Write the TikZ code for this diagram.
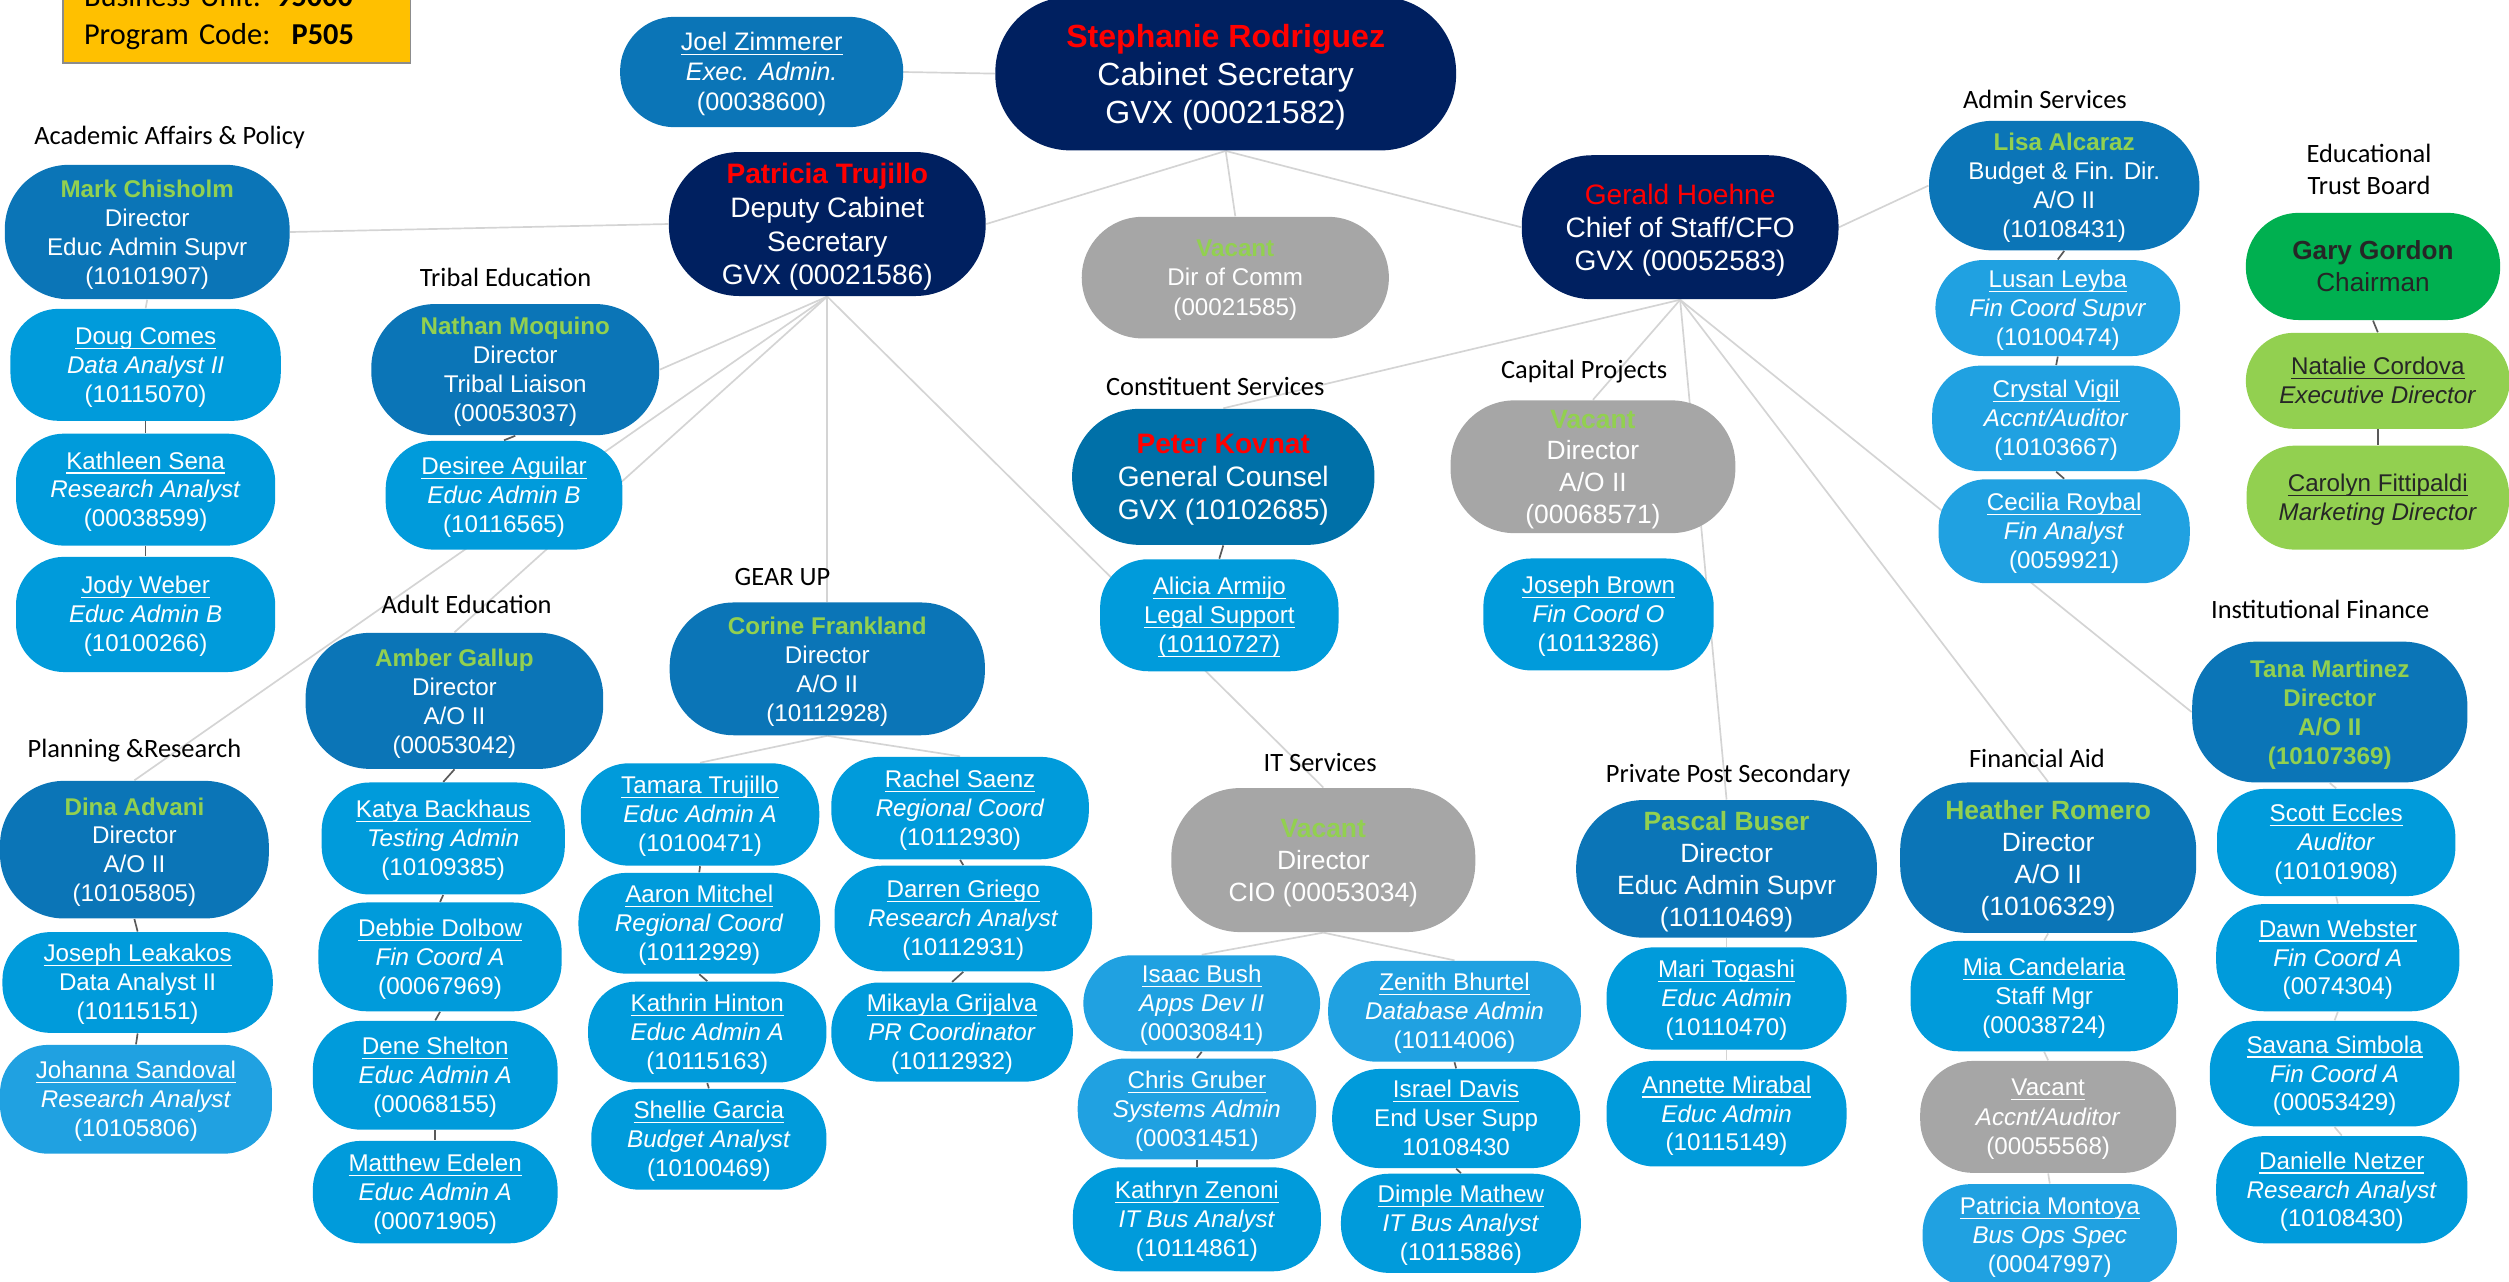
\documentclass[tikz,border=0pt]{standalone}
\usepackage{fontspec}
\setmainfont{Liberation Sans}
\newfontfamily\calib{Carlito}
\usetikzlibrary{backgrounds}

\definecolor{navy}{HTML}{002060}
\definecolor{dirblue}{HTML}{0B75B7}
\definecolor{gcblue}{HTML}{0070A8}
\definecolor{staffblue}{HTML}{009BDB}
\definecolor{stafflight}{HTML}{20A1E1}
\definecolor{vacgray}{HTML}{A6A6A6}
\definecolor{trustgreen}{HTML}{00B050}
\definecolor{boardgreen}{HTML}{92D050}
\definecolor{namegreen}{HTML}{92D050}
\definecolor{linkgray}{HTML}{D4D4D4}
\definecolor{stackgray}{HTML}{595959}
\definecolor{notegold}{HTML}{FFC000}

\newcommand{\nm}[1]{\underline{\smash{#1}}\vphantom{A}}
\newcommand{\gname}[1]{\textcolor{namegreen}{\textbf{#1}}}
\newcommand{\rname}[1]{\textcolor{red}{\textbf{#1}}}

\begin{document}
\begin{tikzpicture}
		[x=0.02cm,y=-0.02cm,
		card/.style={rectangle,align=center,inner sep=0pt,text=white,text depth=0pt},
		sz/.style 2 args={minimum width=#1*0.2mm,minimum height=#2*0.2mm},
		topbox/.style={card,fill=navy,rounded corners=0.88cm,font=\fontsize{10}{12}\selectfont},
		dirbox/.style={card,fill=dirblue,rounded corners=0.8cm,font=\fontsize{8.6}{10.3}\selectfont},
		bigdir/.style={dirbox,rounded corners=0.84cm,font=\fontsize{9.4}{11.4}\selectfont},
		staffbox/.style={card,fill=staffblue,rounded corners=0.6cm,font=\fontsize{8.6}{10.3}\selectfont},
		stafflt/.style={staffbox,fill=stafflight},
		vacbox/.style={card,fill=vacgray,rounded corners=0.76cm,font=\fontsize{8.6}{10.5}\selectfont},
		boardbox/.style={card,fill=boardgreen,text=black!85,rounded corners=0.6cm,font=\fontsize{8.6}{10.4}\selectfont},
		unitlabel/.style={inner sep=0pt,align=center,font=\calib\fontsize{9.4}{11.4}\selectfont},
		link/.style={draw=linkgray,line width=0.6pt},
		stack/.style={draw=stackgray,line width=0.6pt}]
		\useasboundingbox (0,0) rectangle (1568,801);

		% note box
		\node at (39,40) (bucode) [anchor=south west,fill=notegold,draw=black!45,line width=0.6pt,
			text width=3.82cm,inner xsep=0.26cm,inner ysep=0.17cm,align=left,
			font=\calib\fontsize{10.8}{13.4}\selectfont]
			{Business Unit: \textbf{95000}\\Program Code:\hspace{0.7em}\textbf{P505}};

		% cabinet
		\node at (766,46) (steph) [topbox,sz={288}{96},rounded corners=0.94cm,font=\fontsize{11.4}{13.5}\selectfont]
			{\rname{Stephanie Rodriguez}\\Cabinet Secretary\\GVX (00021582)};
		\node at (476,45) (joel) [dirbox,sz={177}{69},rounded corners=0.68cm,font=\fontsize{9}{10.7}\selectfont]
			{\nm{Joel Zimmerer}\\\textit{Exec. Admin.}\\(00038600)};
		\node at (517,140) (patricia) [topbox,sz={198}{90}]
			{\rname{Patricia Trujillo}\\Deputy Cabinet\\Secretary\\GVX (00021586)};
		\node at (772,173.5) (dircomm) [vacbox,sz={192}{76}]
			{\gname{Vacant}\\Dir of Comm\\(00021585)};
		\node at (1050,142) (gerald) [topbox,sz={198}{90},font=\fontsize{10}{11.8}\selectfont]
			{\textcolor{red}{Gerald Hoehne}\\Chief of Staff/CFO\\GVX (00052583)};

		% academic affairs
		\node at (106,86) (aaplbl) [unitlabel] {Academic Affairs \& Policy};
		\node at (92,145) (mark) [dirbox,sz={178}{84}]
			{\gname{Mark Chisholm}\\Director\\Educ Admin Supvr\\(10101907)};
		\node at (91,228) (doug) [staffbox,sz={169}{70}]
			{\nm{Doug Comes}\\\textit{Data Analyst II}\\(10115070)};
		\node at (91,306) (kathleen) [staffbox,sz={162}{70}]
			{\nm{Kathleen Sena}\\\textit{Research Analyst}\\(00038599)};
		\node at (91,384) (jody) [staffbox,sz={162}{72}]
			{\nm{Jody Weber}\\\textit{Educ Admin B}\\(10100266)};

		% tribal education
		\node at (316,173.6) (tribelbl) [unitlabel] {Tribal Education};
		\node at (322,231) (nathan) [dirbox,sz={180}{82}]
			{\gname{Nathan Moquino}\\Director\\Tribal Liaison\\(00053037)};
		\node at (315,309.5) (desiree) [staffbox,sz={148}{68}]
			{\nm{Desiree Aguilar}\\\textit{Educ Admin B}\\(10116565)};

		% planning and research
		\node at (84,469) (planlbl) [unitlabel] {Planning \&Research};
		\node at (84,531) (dina) [dirbox,sz={168}{86}]
			{\gname{Dina Advani}\\Director\\A/O II\\(10105805)};
		\node at (86,614) (leakakos) [staffbox,sz={169}{63}]
			{\nm{Joseph Leakakos}\\Data Analyst II\\(10115151)};
		\node at (85,687) (johanna) [stafflt,sz={170}{68}]
			{\nm{Johanna Sandoval}\\\textit{Research Analyst}\\(10105806)};

		% adult education
		\node at (291.6,378) (adultlbl) [unitlabel] {Adult Education};
		\node at (284,438) (amber) [dirbox,sz={186}{85}]
			{\gname{Amber Gallup}\\Director\\A/O II\\(00053042)};
		\node at (277,524) (katya) [staffbox,sz={152}{70}]
			{\nm{Katya Backhaus}\\\textit{Testing Admin}\\(10109385)};
		\node at (275,598) (debbie) [staffbox,sz={152}{68}]
			{\nm{Debbie Dolbow}\\\textit{Fin Coord A}\\(00067969)};
		\node at (272,672) (dene) [staffbox,sz={153}{68}]
			{\nm{Dene Shelton}\\\textit{Educ Admin A}\\(00068155)};
		\node at (272,745) (matthew) [staffbox,sz={153}{64}]
			{\nm{Matthew Edelen}\\\textit{Educ Admin A}\\(00071905)};

		% gear up
		\node at (489,360.5) (gearlbl) [unitlabel] {GEAR UP};
		\node at (517,418) (corine) [dirbox,sz={197}{83}]
			{\gname{Corine Frankland}\\Director\\A/O II\\(10112928)};
		\node at (437.5,509) (tamara) [staffbox,sz={149}{64}]
			{\nm{Tamara Trujillo}\\\textit{Educ Admin A}\\(10100471)};
		\node at (437,577) (aaron) [staffbox,sz={151}{63}]
			{\nm{Aaron Mitchel}\\\textit{Regional Coord}\\(10112929)};
		\node at (442,645) (kathrin) [staffbox,sz={149}{63}]
			{\nm{Kathrin Hinton}\\\textit{Educ Admin A}\\(10115163)};
		\node at (443,712) (shellie) [staffbox,sz={147}{63}]
			{\nm{Shellie Garcia}\\\textit{Budget Analyst}\\(10100469)};
		\node at (600,505) (rachel) [staffbox,sz={161}{64}]
			{\nm{Rachel Saenz}\\\textit{Regional Coord}\\(10112930)};
		\node at (602,574) (darren) [staffbox,sz={161}{66}]
			{\nm{Darren Griego}\\\textit{Research Analyst}\\(10112931)};
		\node at (595,645) (mikayla) [staffbox,sz={151}{62}]
			{\nm{Mikayla Grijalva}\\\textit{PR Coordinator}\\(10112932)};

		% constituent services
		\node at (759.5,241.6) (constlbl) [unitlabel] {Constituent Services};
		\node at (764.5,298) (peter) [topbox,fill=gcblue,sz={189}{85},rounded corners=0.84cm,font=\fontsize{10}{11.9}\selectfont]
			{\rname{Peter Kovnat}\\General Counsel\\GVX (10102685)};
		\node at (762,384.5) (alicia) [staffbox,sz={149}{70}]
			{\nm{Alicia Armijo}\\\nm{Legal Support}\\\nm{(10110727)}};

		% capital projects
		\node at (990,232.5) (caplbl) [unitlabel] {Capital Projects};
		\node at (995.5,291.7) (capvac) [vacbox,sz={178}{83},rounded corners=0.8cm,font=\fontsize{9.4}{11.3}\selectfont]
			{\gname{Vacant}\\Director\\A/O II\\(00068571)};
		\node at (999,384) (jbrown) [staffbox,sz={144}{70}]
			{\nm{Joseph Brown}\\\textit{Fin Coord O}\\(10113286)};

		% it services
		\node at (825,476.6) (itlbl) [unitlabel] {IT Services};
		\node at (827,537.5) (itvac) [vacbox,sz={190}{90},rounded corners=0.86cm,font=\fontsize{9.4}{11.4}\selectfont]
			{\gname{Vacant}\\Director\\CIO (00053034)};
		\node at (751,627) (isaac) [stafflt,sz={148}{60}]
			{\nm{Isaac Bush}\\\textit{Apps Dev II}\\(00030841)};
		\node at (748,693) (chris) [stafflt,sz={149}{63}]
			{\nm{Chris Gruber}\\\textit{Systems Admin}\\(00031451)};
		\node at (748,762) (kathryn) [staffbox,sz={155}{65}]
			{\nm{Kathryn Zenoni}\\\textit{IT Bus Analyst}\\(10114861)};
		\node at (909,632) (zenith) [stafflt,sz={158}{63}]
			{\nm{Zenith Bhurtel}\\\textit{Database Admin}\\(10114006)};
		\node at (910,699) (israel) [staffbox,sz={155}{62}]
			{\nm{Israel Davis}\\End User Supp\\10108430};
		\node at (913,764.5) (dimple) [staffbox,sz={150}{62}]
			{\nm{Dimple Mathew}\\\textit{IT Bus Analyst}\\(10115886)};

		% private post secondary
		\node at (1080,484.5) (ppslbl) [unitlabel] {Private Post Secondary};
		\node at (1079,543) (pascal) [bigdir,sz={188}{86}]
			{\gname{Pascal Buser}\\Director\\Educ Admin Supvr\\(10110469)};
		\node at (1079,624) (mari) [staffbox,sz={150}{64}]
			{\nm{Mari Togashi}\\\textit{Educ Admin}\\(10110470)};
		\node at (1079,696) (annette) [staffbox,sz={150}{66}]
			{\nm{Annette Mirabal}\\\textit{Educ Admin}\\(10115149)};

		% admin services
		\node at (1278,62) (adminlbl) [unitlabel] {Admin Services};
		\node at (1290,116) (lisa) [dirbox,sz={169}{81}]
			{\gname{Lisa Alcaraz}\\Budget \& Fin. Dir.\\A/O II\\(10108431)};
		\node at (1286,192.5) (lusan) [stafflt,sz={153}{60}]
			{\nm{Lusan Leyba}\\\textit{Fin Coord Supvr}\\(10100474)};
		\node at (1285,261.5) (crystal) [stafflt,sz={155}{66}]
			{\nm{Crystal Vigil}\\\textit{Accnt/Auditor}\\(10103667)};
		\node at (1290,332) (cecilia) [stafflt,sz={157}{65}]
			{\nm{Cecilia Roybal}\\\textit{Fin Analyst}\\(0059921)};

		% educational trust board
		\node at (1480.5,106) (trustlbl) [unitlabel] {Educational\\Trust Board};
		\node at (1483,166.5) (gary) [boardbox,fill=trustgreen,sz={159}{67},rounded corners=0.66cm,font=\fontsize{9.3}{11.4}\selectfont]
			{\textbf{Gary Gordon}\\Chairman};
		\node at (1486,238) (natalie) [boardbox,sz={165}{60}]
			{\nm{Natalie Cordova}\\\textit{Executive Director}};
		\node at (1486,311) (carolyn) [boardbox,sz={164}{65}]
			{\nm{Carolyn Fittipaldi}\\\textit{Marketing Director}};

		% financial aid
		\node at (1273,474) (finaidlbl) [unitlabel] {Financial Aid};
		\node at (1280,536) (heather) [bigdir,sz={185}{94}]
			{\gname{Heather Romero}\\Director\\A/O II\\(10106329)};
		\node at (1277.5,622.5) (mia) [staffbox,sz={167}{69}]
			{\nm{Mia Candelaria}\\Staff Mgr\\(00038724)};
		\node at (1280,698) (vacacc) [vacbox,sz={160}{70},rounded corners=0.66cm]
			{\nm{Vacant}\\\textit{Accnt/Auditor}\\(00055568)};
		\node at (1281,772) (montoya) [stafflt,sz={159}{64}]
			{\nm{Patricia Montoya}\\\textit{Bus Ops Spec}\\(00047997)};

		% institutional finance
		\node at (1450,380.6) (instlbl) [unitlabel] {Institutional Finance};
		\node at (1456,445) (tana) [dirbox,sz={172}{88},text=namegreen,font=\fontsize{8.6}{10.3}\selectfont\bfseries]
			{Tana Martinez\\Director\\A/O II\\(10107369)};
		\node at (1460,526.5) (scott) [staffbox,sz={149}{67}]
			{\nm{Scott Eccles}\\\textit{Auditor}\\(10101908)};
		\node at (1461,598.5) (dawn) [staffbox,sz={152}{67}]
			{\nm{Dawn Webster}\\\textit{Fin Coord A}\\(0074304)};
		\node at (1459,671) (savana) [staffbox,sz={156}{66}]
			{\nm{Savana Simbola}\\\textit{Fin Coord A}\\(00053429)};
		\node at (1463.5,743.5) (danielle) [staffbox,sz={157}{67}]
			{\nm{Danielle Netzer}\\\textit{Research Analyst}\\(10108430)};

		% reporting lines, behind the cards
		\begin{scope}[on background layer]
		\path (joel.east) edge [link] (steph.west)
			(steph.south) edge [link] (patricia.east)
			(steph.south) edge [link] (dircomm.north)
			(steph.south) edge [link] (gerald.west);
		\path (mark.east) edge [link] (patricia.west)
			(patricia.south) edge [link] (nathan.east)
			(patricia.south) edge [link] (dina.north)
			(patricia.south) edge [link] (amber.north)
			(patricia.south) edge [link] (corine.north)
			(patricia.south) edge [link] (itvac.north);
		\path (gerald.east) edge [link] (lisa.west)
			(gerald.south) edge [link] (peter.north)
			(gerald.south) edge [link] (capvac.north)
			(gerald.south) edge [link] (pascal.north)
			(gerald.south) edge [link] (heather.north)
			(gerald.south) edge [link] (tana.west);
		\path (mark.south) edge [link] (doug.north)
			(corine.south) edge [link] (tamara.north)
			(corine.south) edge [link] (rachel.north)
			(itvac.south) edge [link] (isaac.north)
			(itvac.south) edge [link] (zenith.north)
			(pascal.south) edge [link] (mari.north)
			(mari.south) edge [link] (annette.north)
			(heather.south) edge [link] (mia.north)
			(mia.south) edge [link] (vacacc.north)
			(vacacc.south) edge [link] (montoya.north)
			(tana.south) edge [link] (scott.north)
			(scott.south) edge [link] (dawn.north)
			(dawn.south) edge [link] (savana.north)
			(savana.south) edge [link] (danielle.north);
		\path (doug.south) edge [stack] (kathleen.north)
			(kathleen.south) edge [stack] (jody.north)
			(nathan.south) edge [stack] (desiree.north)
			(dina.south) edge [stack] (leakakos.north)
			(leakakos.south) edge [stack] (johanna.north)
			(amber.south) edge [stack] (katya.north)
			(katya.south) edge [stack] (debbie.north)
			(debbie.south) edge [stack] (dene.north)
			(dene.south) edge [stack] (matthew.north)
			(tamara.south) edge [stack] (aaron.north)
			(aaron.south) edge [stack] (kathrin.north)
			(kathrin.south) edge [stack] (shellie.north)
			(rachel.south) edge [stack] (darren.north)
			(darren.south) edge [stack] (mikayla.north)
			(peter.south) edge [stack] (alicia.north)
			(isaac.south) edge [stack] (chris.north)
			(chris.south) edge [stack] (kathryn.north)
			(zenith.south) edge [stack] (israel.north)
			(israel.south) edge [stack] (dimple.north)
			(lisa.south) edge [stack] (lusan.north)
			(lusan.south) edge [stack] (crystal.north)
			(crystal.south) edge [stack] (cecilia.north)
			(gary.south) edge [stack] (natalie.north)
			(natalie.south) edge [stack] (carolyn.north);
		\end{scope}
	\end{tikzpicture}
\end{document}
